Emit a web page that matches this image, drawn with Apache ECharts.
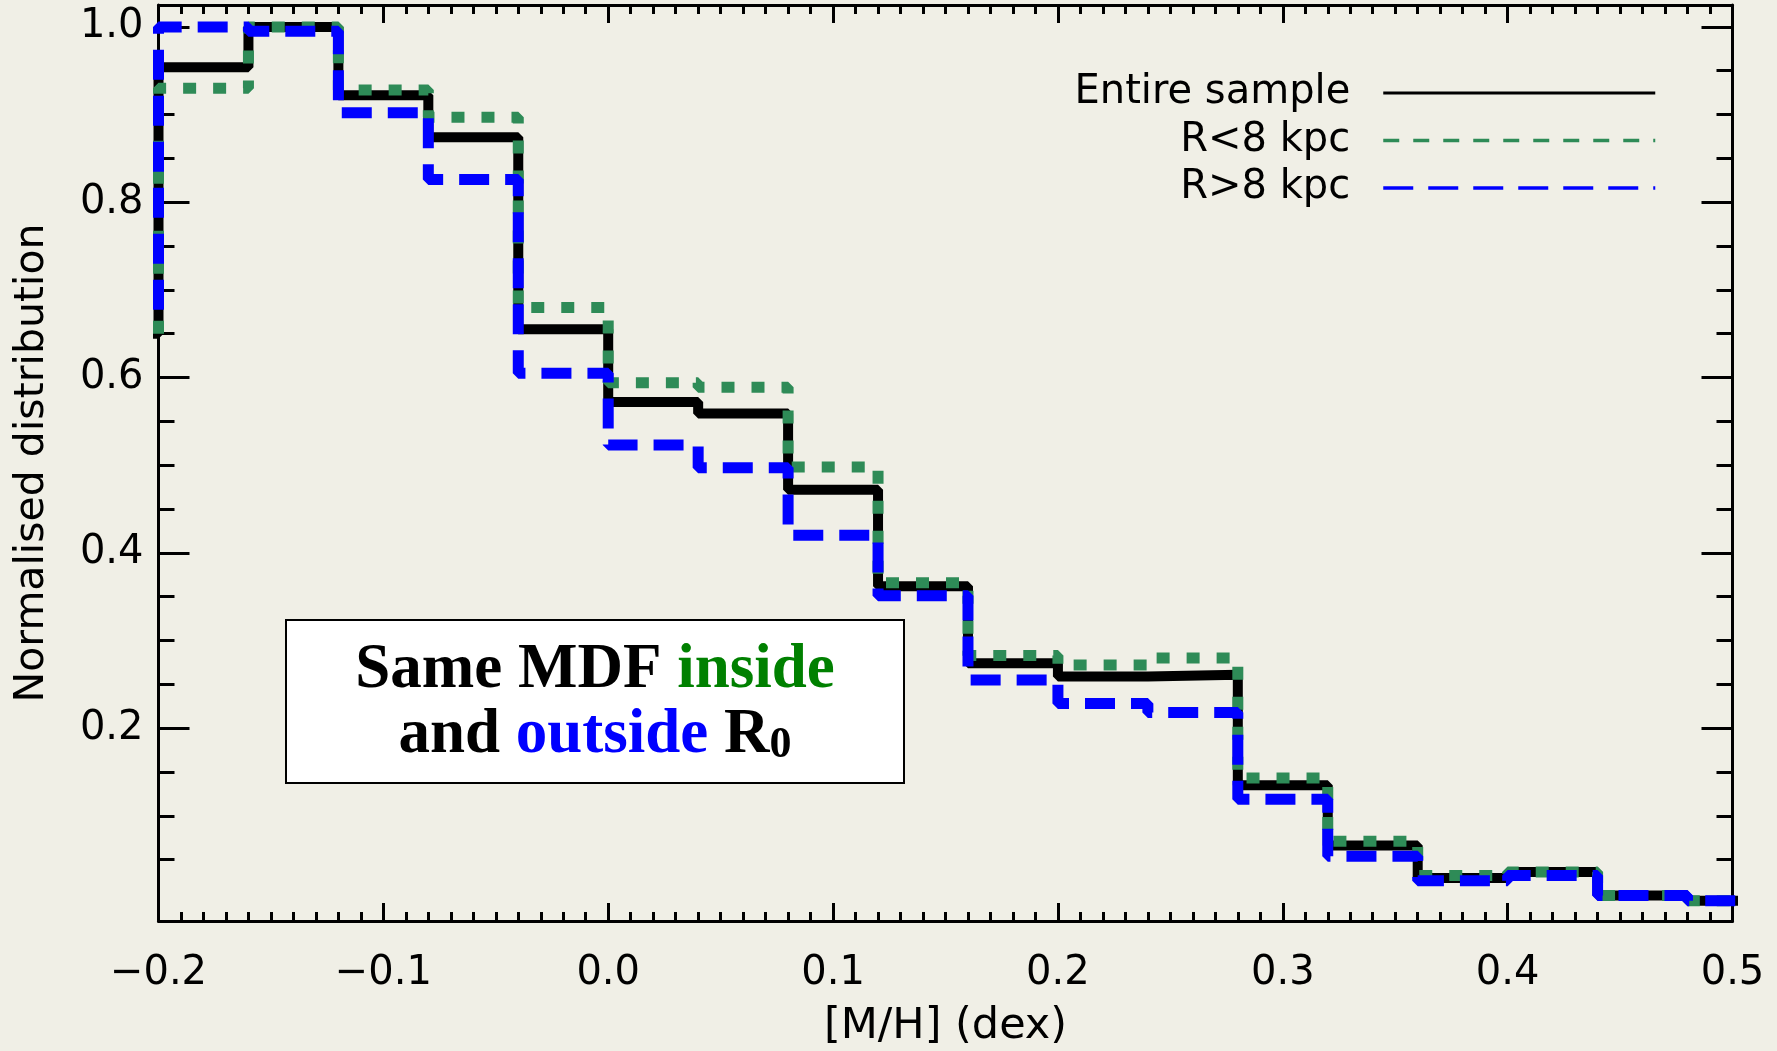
<!DOCTYPE html>
<html>
<head>
<meta charset="utf-8">
<script src="https://cdn.jsdelivr.net/npm/echarts@6/dist/echarts.min.js"></script>
<style>
  html, body { margin: 0; padding: 0; background: #f0efe6; }
  #chart { width: 1777px; height: 1051px; }
</style>
</head>
<body>
<div id="chart"></div>
<script>
// Bin edges of the [M/H] histogram (first bin lies just left of the plotted range)
const binEdges = [-0.24, -0.20, -0.16, -0.12, -0.08, -0.04, 0.00, 0.04, 0.08, 0.12,
                  0.16, 0.20, 0.24, 0.28, 0.32, 0.36, 0.40, 0.44, 0.48, 0.52];
// Normalised distribution in each bin
const entireSample = [0.650, 0.954, 1.000, 0.922, 0.874, 0.655, 0.572, 0.559, 0.472, 0.362,
                      0.274, 0.259, 0.261, 0.135, 0.066, 0.029, 0.036, 0.009, 0.003];
const insideR8 =     [0.650, 0.930, 1.000, 0.928, 0.897, 0.680, 0.594, 0.589, 0.498, 0.366,
                      0.283, 0.272, 0.280, 0.143, 0.071, 0.032, 0.036, 0.009, 0.003];
const outsideR8 =    [0.675, 1.000, 0.995, 0.902, 0.826, 0.605, 0.523, 0.497, 0.420, 0.351,
                      0.255, 0.228, 0.218, 0.119, 0.054, 0.026, 0.032, 0.009, 0.003];
const seriesNames = ['Entire sample', 'R<8 kpc', 'R>8 kpc'];

// Axis ticks
const xMajorTicks = [-0.2, -0.1, 0.0, 0.1, 0.2, 0.3, 0.4, 0.5];
const yMajorTicks = [0.2, 0.4, 0.6, 0.8, 1.0];
const xMinorStep = 0.01;
const yMinorStep = 0.05;
const xRange = [-0.2, 0.5];
const yRange = [-0.02, 1.025];

function minorTicks(majors, step, lo, hi) {
  const out = [];
  const n = Math.round((hi - lo) / step);
  for (let i = 0; i <= n; i++) {
    const v = Math.round((lo + i * step) * 1000) / 1000;
    if (v < lo || v > hi) continue;
    if (majors.some(m => Math.abs(m - v) < 1e-9)) continue;
    out.push(v);
  }
  return out;
}
const xMinorTicks = minorTicks(xMajorTicks, xMinorStep, -0.2, 0.5);
const yMinorTicks = minorTicks(yMajorTicks.concat([0.0]), yMinorStep, 0.0, 1.0);

function stepData(vals) {
  const d = vals.map((v, i) => [binEdges[i], v]);
  d.push([binEdges[binEdges.length - 1], vals[vals.length - 1]]);
  return d;
}

const FONT = 'DejaVu Sans';
const axisColor = '#000';

function makeX(pos, ticks, len, withLine, withLabels) {
  return {
    type: 'value', position: pos, min: xRange[0], max: xRange[1],
    splitLine: { show: false },
    axisLine: { show: withLine, onZero: false, lineStyle: { color: axisColor, width: 3 } },
    axisTick: { show: true, inside: true, length: len, customValues: ticks,
                lineStyle: { color: axisColor, width: 3 } },
    axisLabel: withLabels ? {
      show: true, customValues: ticks, margin: 33, color: '#000',
      fontFamily: FONT, fontSize: 40,
      formatter: v => (v < 0 ? '\u2212' : '') + Math.abs(v).toFixed(1)
    } : { show: false },
    name: withLabels ? '[M/H] (dex)' : '',
    nameLocation: 'middle', nameGap: 84,
    nameTextStyle: { fontFamily: FONT, fontSize: 43, color: '#000' }
  };
}
function makeY(pos, ticks, len, withLine, withLabels) {
  return {
    type: 'value', position: pos, min: yRange[0], max: yRange[1],
    splitLine: { show: false },
    axisLine: { show: withLine, onZero: false, lineStyle: { color: axisColor, width: 3 } },
    axisTick: { show: true, inside: true, length: len, customValues: ticks,
                lineStyle: { color: axisColor, width: 3 } },
    axisLabel: withLabels ? {
      show: true, customValues: ticks, margin: 15, color: '#000',
      fontFamily: FONT, fontSize: 40,
      formatter: v => v.toFixed(1)
    } : { show: false },
    name: withLabels ? 'Normalised distribution' : '',
    nameLocation: 'middle', nameGap: 106,
    nameTextStyle: { fontFamily: FONT, fontSize: 41, color: '#000' }
  };
}

const chart = echarts.init(document.getElementById('chart'), null, { renderer: 'canvas' });
chart.setOption({
  backgroundColor: '#f0efe6',
  animation: false,
  grid: { left: 158.5, right: 44.5, top: 5, bottom: 130, outerBoundsMode: 'none' },
  xAxis: [
    makeX('bottom', xMajorTicks, 18, true, true),
    makeX('bottom', xMinorTicks, 9, false, false),
    makeX('top', xMajorTicks, 18, true, false),
    makeX('top', xMinorTicks, 9, false, false)
  ],
  yAxis: [
    makeY('left', yMajorTicks, 31, true, true),
    makeY('left', yMinorTicks, 16, false, false),
    makeY('right', yMajorTicks, 31, true, false),
    makeY('right', yMinorTicks, 16, false, false)
  ],
  legend: {
    orient: 'vertical', align: 'right', right: 120, top: 73, padding: 0,
    itemWidth: 272, itemHeight: 14, itemGap: 7.5, selectedMode: false,
    itemStyle: { opacity: 0, borderWidth: 0 },
    formatter: name => '{t|' + name + '}',
    textStyle: {
      color: '#000', fontFamily: FONT, fontSize: 40,
      rich: { t: { fontFamily: FONT, fontSize: 40, color: '#000', lineHeight: 48,
                   width: 300, align: 'right', padding: [0, 28, 0, 0] } }
    },
    data: [
      { name: seriesNames[0], itemStyle: { opacity: 0 }, lineStyle: { width: 3, type: 'solid', color: '#000' } },
      { name: seriesNames[1], itemStyle: { opacity: 0 }, lineStyle: { width: 3.5, type: [16, 14], color: '#2e8b57' } },
      { name: seriesNames[2], itemStyle: { opacity: 0 }, lineStyle: { width: 3.5, type: [30, 15], color: '#0000ff' } }
    ]
  },
  series: [
    { name: seriesNames[0], type: 'line', step: 'end', symbol: 'none', showSymbol: false,
      clip: true, data: stepData(entireSample), z: 3,
      lineStyle: { color: '#000', width: 10, type: 'solid' }, itemStyle: { color: '#000' } },
    { name: seriesNames[1], type: 'line', step: 'end', symbol: 'none', showSymbol: false,
      clip: true, data: stepData(insideR8), z: 4,
      lineStyle: { color: '#2e8b57', width: 11, type: [13, 17] }, itemStyle: { color: '#2e8b57' } },
    { name: seriesNames[2], type: 'line', step: 'end', symbol: 'none', showSymbol: false,
      clip: true, data: stepData(outsideR8), z: 5,
      lineStyle: { color: '#0000ff', width: 11, type: [30, 16] }, itemStyle: { color: '#0000ff' } }
  ],
  graphic: [
    { type: 'rect', z: 10, shape: { x: 286, y: 620, width: 618, height: 163 },
      style: { fill: '#ffffff', stroke: '#000', lineWidth: 2 } },
    { type: 'text', z: 11, x: 595, y: 703,
      style: {
        text: '{b|Same MDF }{g|inside}\n{b|and }{u|outside}{b| R}{s|0}',
        align: 'center', verticalAlign: 'middle',
        rich: {
          b: { fontFamily: 'Liberation Serif', fontWeight: 'bold', fontSize: 63, lineHeight: 65, fill: '#000' },
          g: { fontFamily: 'Liberation Serif', fontWeight: 'bold', fontSize: 63, lineHeight: 65, fill: '#008000' },
          u: { fontFamily: 'Liberation Serif', fontWeight: 'bold', fontSize: 63, lineHeight: 65, fill: '#0000ff' },
          s: { fontFamily: 'Liberation Serif', fontWeight: 'bold', fontSize: 44, lineHeight: 26, verticalAlign: 'bottom', fill: '#000' }
        }
      } }
  ]
});
</script>
</body>
</html>
